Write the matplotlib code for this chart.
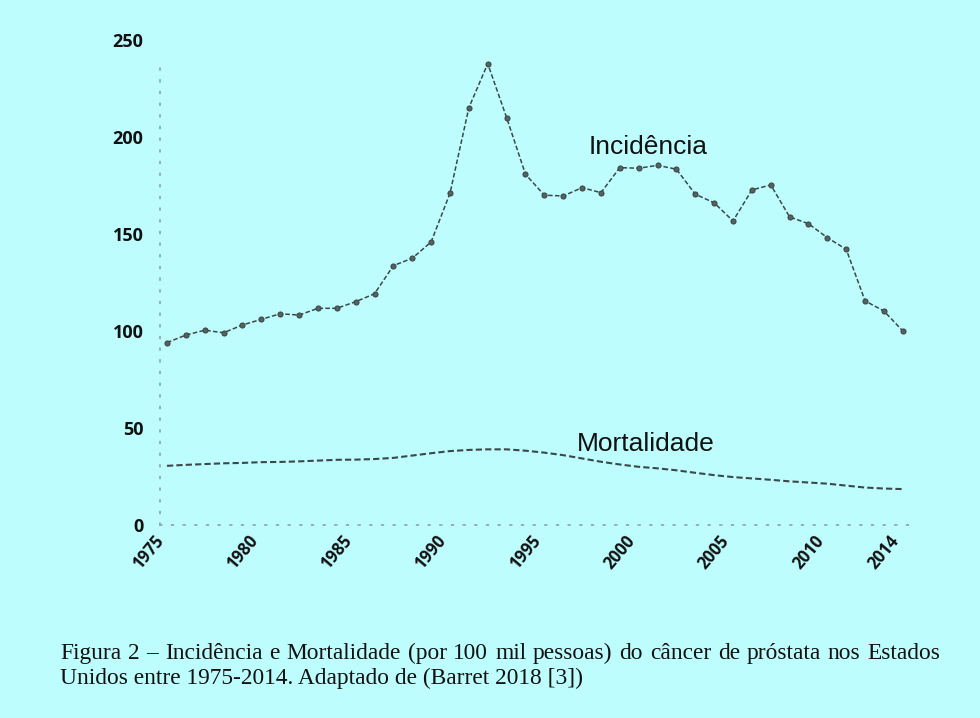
import numpy as np
import matplotlib
matplotlib.use("Agg")
import matplotlib.pyplot as plt

years = list(range(1975, 2015))

incidencia = [94.0, 97.9, 100.4, 99.1, 103.1, 106.0, 108.9, 108.2, 111.7, 111.7,
              115.1, 119.2, 133.7, 137.5, 145.9, 171.0, 215.1, 237.8, 210.0, 180.8,
              170.0, 169.6, 173.9, 171.3, 184.2, 183.9, 185.4, 183.4, 170.5, 166.1,
              156.7, 172.7, 175.3, 158.8, 155.3, 148.1, 142.1, 115.5, 110.3, 100.0]

mortalidade = [30.5, 31.0, 31.4, 31.8, 32.0, 32.4, 32.5, 32.8, 33.2, 33.6,
               33.7, 34.0, 34.6, 35.8, 37.0, 38.1, 38.7, 39.0, 39.0, 38.3,
               37.3, 36.0, 34.3, 32.6, 31.2, 30.0, 29.2, 28.2, 26.9, 25.7,
               24.7, 24.0, 23.3, 22.5, 21.9, 21.3, 20.3, 19.3, 18.8, 18.5]

xtick_years = [1975, 1980, 1985, 1990, 1995, 2000, 2005, 2010, 2014]
ytick_vals = [0, 50, 100, 150, 200, 250]

caption_l1 = "Figura 2 – Incidência e Mortalidade (por 100 mil pessoas) do câncer de próstata nos Estados"
caption_l2 = "Unidos entre 1975-2014. Adaptado de (Barret 2018 [3])"

bg = "#bdfdfd"
line_col = "#3c4848"
W, H = 980, 718

fig = plt.figure(figsize=(9.8, 7.18), dpi=100, facecolor=bg)
ax = fig.add_axes([160 / W, 1 - 525 / H, 750 / W, 485 / H])
ax.set_facecolor(bg)

ax.plot(years, incidencia, linestyle=(0, (3, 1.5)), color=line_col, linewidth=1.1,
        marker="o", markersize=3.6, markerfacecolor="#55625f", markeredgecolor="#3c4848",
        markeredgewidth=0.8)
ax.plot(years, mortalidade, linestyle=(0, (3, 1.5)), color=line_col, linewidth=1.5)

ax.set_xlim(1974.63, 2014.38)
ax.set_ylim(0, 485 / 1.94)

ax.set_xticks(xtick_years)
ax.set_xticklabels([str(y) for y in xtick_years], rotation=50, ha="right", va="top",
                   fontsize=12, fontweight="bold", family="Open Sans")
ax.set_yticks(ytick_vals)
ax.set_yticklabels([str(v) for v in ytick_vals], fontsize=13, fontweight="bold",
                   family="Open Sans")
ax.tick_params(axis="both", length=0, colors="#111111")
ax.tick_params(axis="y", pad=12)
ax.tick_params(axis="x", pad=5)

for side in ["top", "right"]:
    ax.spines[side].set_visible(False)
for side in ["left", "bottom"]:
    ax.spines[side].set_linestyle((0, (1, 6)))
    ax.spines[side].set_color("#8fa5a5")
    ax.spines[side].set_linewidth(1.2)
ax.spines["left"].set_bounds(0, 240)

ax.text(2000.5, 195, "Incidência", fontsize=19, family="Liberation Sans",
        ha="center", va="center", color="#111111")
ax.text(2000.4, 42, "Mortalidade", fontsize=19, family="Liberation Sans",
        ha="center", va="center", color="#111111")

# caption: first line justified between x=60 and x=940
cap_kw = dict(fontsize=16.8, family="Liberation Serif", color="#111111", va="baseline")
renderer = fig.canvas.get_renderer()
words = caption_l1.split(" ")
word_texts = [fig.text(0, 1 - 659 / H, w, ha="left", **cap_kw) for w in words]
widths = [t.get_window_extent(renderer).width for t in word_texts]
gap = (880 - sum(widths)) / (len(words) - 1)
x = 60.0
for t, w in zip(word_texts, widths):
    t.set_x(x / W)
    x += w + gap
fig.text(60 / W, 1 - 684 / H, caption_l2, ha="left", **cap_kw)

fig.savefig("out.png", dpi=100, facecolor=bg)
